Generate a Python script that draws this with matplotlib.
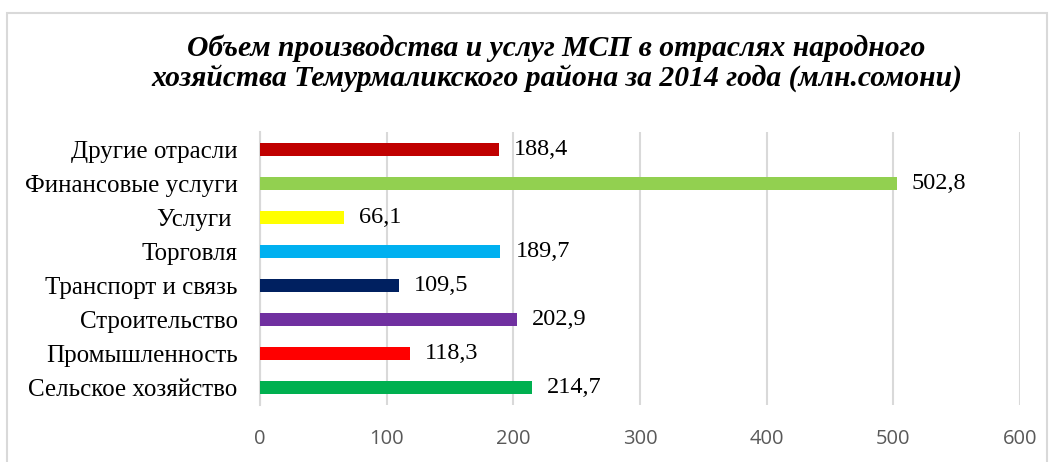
import matplotlib
matplotlib.use("Agg")
import matplotlib.pyplot as plt
import matplotlib.patches as mpatches

# data, bottom to top
categories = ['Сельское хозяйство', 'Промышленность', 'Строительство',
              'Транспорт и связь', 'Торговля', 'Услуги ',
              'Финансовые услуги', 'Другие отрасли']
values = [214.7, 118.3, 202.9, 109.5, 189.7, 66.1, 502.8, 188.4]
colors = ['#00B050', '#FF0000', '#7030A0', '#002060',
          '#00B0F0', '#FFFF00', '#92D050', '#C00000']
xticks = [0, 100, 200, 300, 400, 500, 600]

title = ('Объем производства и услуг МСП в отраслях народного\n'
         'хозяйства Темурмаликского района за 2014 года (млн.сомони)')

fig = plt.figure(figsize=(10.52, 4.62), dpi=100)
ax = fig.add_axes([0.2471, 0.1234, 0.7224, 0.5909])

ypos = range(len(categories))
ax.barh(ypos, values, height=0.38, color=colors, zorder=3)

for y, v in zip(ypos, values):
    ax.text(v + 12, y, f'{v:.1f}'.replace('.', ','), va='center', ha='left',
            fontsize=17.5, family='Liberation Serif', color='black')

ax.set_xlim(0, 600)
ax.set_ylim(-0.5, len(categories) - 0.5)
ax.set_xticks(xticks)
ax.set_xticklabels([str(t) for t in xticks], fontsize=14.5, family='Open Sans',
                   color='#595959')
ax.set_yticks(list(ypos))
ax.set_yticklabels(categories, fontsize=18, family='Liberation Serif')
ax.tick_params(axis='both', length=0)
ax.tick_params(axis='x', pad=17)
ax.tick_params(axis='y', pad=16)

ax.xaxis.grid(True, color='#D9D9D9', linewidth=1.5, zorder=0)
for s in ['top', 'right', 'bottom']:
    ax.spines[s].set_visible(False)
ax.spines['left'].set_color('#D9D9D9')
ax.spines['left'].set_linewidth(1.5)

fig.text(0.529, 0.863, title, ha='center', va='center', fontsize=21.3,
         family='Liberation Serif', fontweight='bold', style='italic',
         linespacing=1.12)

# light frame around the chart
fig.patches.append(mpatches.Rectangle((0.007, -0.01), 0.988, 0.982,
                                      transform=fig.transFigure, fill=False,
                                      edgecolor='#D9D9D9', linewidth=1.5))

fig.savefig('out.png', dpi=100)
